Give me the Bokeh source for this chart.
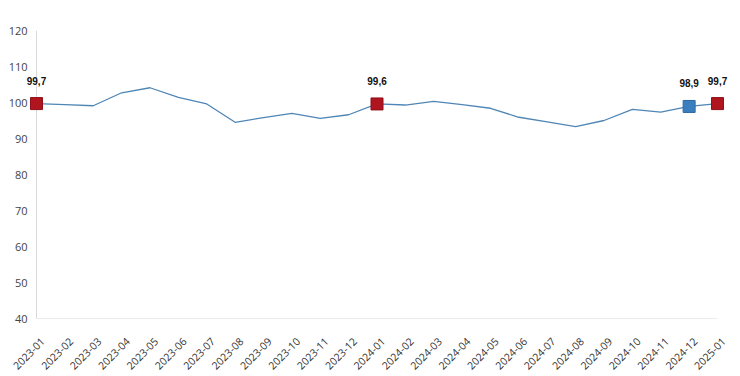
import math
from bokeh.plotting import figure
from bokeh.models import ColumnDataSource, FixedTicker, Range1d, LabelSet
from bokeh.core.properties import value
from bokeh.embed import file_html
from bokeh.resources import INLINE

months = ["2023-01", "2023-02", "2023-03", "2023-04", "2023-05", "2023-06", "2023-07",
          "2023-08", "2023-09", "2023-10", "2023-11", "2023-12", "2024-01", "2024-02",
          "2024-03", "2024-04", "2024-05", "2024-06", "2024-07", "2024-08", "2024-09",
          "2024-10", "2024-11", "2024-12", "2025-01"]
values = [99.7, 99.4, 99.1, 102.7, 104.1, 101.4, 99.6, 94.5, 95.8, 97.0, 95.6, 96.6,
          99.6, 99.3, 100.3, 99.4, 98.4, 95.9, 94.6, 93.3, 95.0, 98.1, 97.3, 98.9, 99.7]
y_ticks = [40, 50, 60, 70, 80, 90, 100, 110, 120]
highlight_idx = [0, 12, 23, 24]
highlight_colors = ["#B0141E", "#B0141E", "#3A7EC0", "#B0141E"]
highlight_lines = ["#8E1018", "#8E1018", "#2F69A3", "#8E1018"]

x = list(range(len(months)))
src = ColumnDataSource(dict(x=x, y=values))
hsrc = ColumnDataSource(dict(
    x=[x[i] for i in highlight_idx],
    y=[values[i] for i in highlight_idx],
    fill=highlight_colors,
    line=highlight_lines,
    label=[f"{values[i]:.1f}".replace(".", ",") for i in highlight_idx],
))

p = figure(frame_width=709, frame_height=288, output_backend="svg", toolbar_location=None,
           x_range=Range1d(-0.493, len(months) - 1 + 0.493), y_range=Range1d(y_ticks[0], y_ticks[-1]),
           min_border_left=22, min_border_top=30, min_border_right=5, min_border_bottom=5)
p.outline_line_color = None
p.xgrid.grid_line_color = None
p.ygrid.grid_line_color = None
p.background_fill_color = "white"
p.border_fill_color = "white"

# axis frame lines
p.segment(x0=[0], y0=[y_ticks[0]], x1=[0], y1=[y_ticks[-1]], line_color="#d9d9d9", line_width=1)
p.segment(x0=[0], y0=[y_ticks[0]], x1=[len(months) - 1], y1=[y_ticks[0]], line_color="#d9d9d9", line_width=1)

p.line("x", "y", source=src, line_color="#4F86B6", line_width=1.3)
p.scatter("x", "y", source=hsrc, marker="square", size=12, fill_color="fill", line_color="line", line_width=1)
labels = LabelSet(x="x", y="y", text="label", source=hsrc, y_offset=19, text_align="center",
                  text_baseline="bottom", text_font=value("Liberation Sans"), text_font_style="bold",
                  text_font_size="10px", text_color="#111111")
p.add_layout(labels)

# tick positions nudged right so rotated labels end just right of each point
label_shift = 0.22
tick_pos = [i + label_shift for i in x]
p.xaxis.ticker = FixedTicker(ticks=tick_pos)
p.xaxis.major_label_overrides = {t: m for t, m in zip(tick_pos, months)}
p.xaxis.major_label_orientation = math.pi / 4
p.xaxis.axis_line_color = None
p.xaxis.major_tick_line_color = None
p.xaxis.minor_tick_line_color = None
p.xaxis.major_label_standoff = 15
p.xaxis.major_label_text_font = "Open Sans"
p.xaxis.major_label_text_font_size = "10.5px"
p.xaxis.major_label_text_color = "#333333"

p.yaxis.ticker = FixedTicker(ticks=y_ticks)
p.yaxis.axis_line_color = None
p.yaxis.major_tick_line_color = None
p.yaxis.minor_tick_line_color = None
p.yaxis.major_tick_out = 0
p.yaxis.major_label_standoff = -5
p.yaxis.major_label_text_font = "Open Sans"
p.yaxis.major_label_text_font_size = "11px"
p.yaxis.major_label_text_color = "#444444"

open("out.html", "w").write(file_html(p, INLINE))
